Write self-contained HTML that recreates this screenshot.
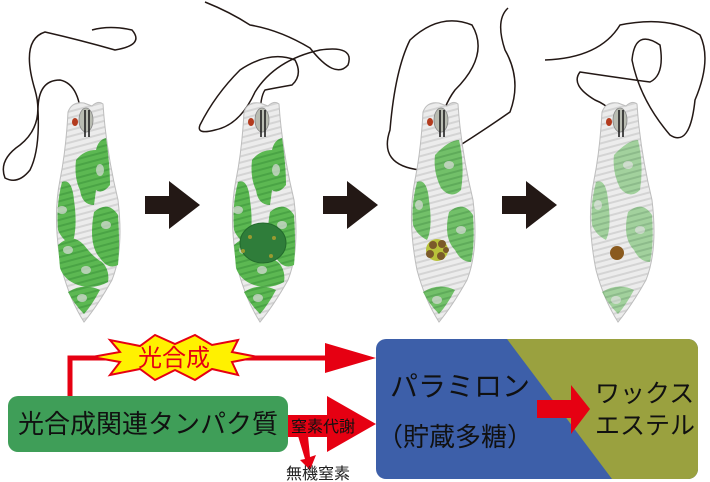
<!DOCTYPE html>
<html><head><meta charset="utf-8"><style>
html,body{margin:0;padding:0;background:#fff;width:710px;height:482px;overflow:hidden}
svg{display:block}
text{font-family:"Liberation Sans","Noto Sans CJK JP",sans-serif}
</style></head><body>
<svg width="710" height="482" viewBox="0 0 710 482" xmlns="http://www.w3.org/2000/svg">
<defs>
<pattern id="st" width="6" height="6" patternUnits="userSpaceOnUse" patternTransform="rotate(-15)">
<rect width="6" height="6" fill="#ececec"/><rect width="6" height="2" fill="#d4d4d4"/></pattern>
<pattern id="gs" width="6" height="6" patternUnits="userSpaceOnUse" patternTransform="rotate(-15)">
<rect width="6" height="6" fill="#5cb852"/><rect width="6" height="2" fill="#4aa445"/></pattern>
<g id="cell">
<path d="M-20,112 Q-16,101 -4,103 L4,106 Q10,100 15,104 Q18,150 30,200 Q36,250 24,280 Q10,305 -4,322 Q-18,300 -26,270 Q-36,220 -28,180 Q-22,150 -20,112Z" fill="url(#st)" stroke="#bdbdbd" stroke-width="1"/>
<ellipse cx="-2" cy="120" rx="7" ry="12" fill="#b9bcb2" stroke="#888" stroke-width="0.8"/>
<ellipse cx="-13" cy="122" rx="3" ry="4" fill="#b33b1e"/>
<path d="M-3,110 L-3,137 M1,110 L1,137" stroke="#222" stroke-width="1.6"/>
</g>
<g id="green1">
<path d="M-12,160 Q-4,150 8,150 Q10,140 18,138 Q22,165 22,185 Q14,195 8,190 L6,205 Q-6,205 -8,190 Q-14,178 -12,160Z" fill="url(#gs)"/>
<path d="M-26,182 Q-16,178 -14,200 Q-10,228 -16,245 Q-26,240 -30,230 Q-32,205 -26,182Z" fill="url(#gs)"/>
<path d="M6,212 Q20,200 30,215 Q32,245 30,265 Q20,270 12,258 Q0,245 6,212Z" fill="url(#gs)"/>
<path d="M-30,245 Q-16,232 -4,245 Q6,258 14,262 Q22,270 20,282 Q6,290 -10,285 Q-24,280 -28,268Z" fill="url(#gs)"/>
<path d="M-20,292 Q-4,282 12,290 Q4,305 -4,314 Q-14,304 -20,292Z" fill="url(#gs)"/>
<g fill="#dcdcdc" opacity=".7"><ellipse cx="12" cy="170" rx="4" ry="6"/><ellipse cx="-26" cy="210" rx="5" ry="4"/><ellipse cx="18" cy="225" rx="5" ry="4"/><ellipse cx="-20" cy="250" rx="5" ry="4"/><ellipse cx="-2" cy="270" rx="5" ry="4"/><ellipse cx="-6" cy="298" rx="5" ry="4"/></g>
</g>
<g id="green2">
<path d="M-8,155 Q6,140 16,140 Q22,165 18,190 Q8,200 -2,188 Q-10,172 -8,155Z" fill="url(#gs)" opacity=".85"/>
<path d="M-26,182 Q-16,178 -14,200 Q-10,228 -16,240 Q-26,235 -30,225 Q-32,205 -26,182Z" fill="url(#gs)" opacity=".85"/>
<path d="M6,212 Q20,200 30,215 Q32,245 28,262 Q18,262 12,250 Q0,238 6,212Z" fill="url(#gs)" opacity=".85"/>
<path d="M-20,292 Q-4,282 12,290 Q4,305 -4,314 Q-14,304 -20,292Z" fill="url(#gs)" opacity=".85"/>
<g fill="#dcdcdc" opacity=".7"><ellipse cx="6" cy="165" rx="5" ry="4"/><ellipse cx="-24" cy="205" rx="4" ry="5"/><ellipse cx="18" cy="230" rx="5" ry="4"/><ellipse cx="-6" cy="300" rx="5" ry="4"/></g>
</g>
<path id="barr" d="M0,196 L24,196 L24,181 L55,205 L24,229 L24,214 L0,214Z" fill="#231815"/>
</defs>
<g fill="none" stroke="#231815" stroke-width="1.5">
<path d="M81,137 Q84,85 60,80 Q38,80 38,110 Q40,150 30,170 Q18,185 5,178 Q-2,160 20,145 Q45,125 35,90 Q20,40 45,32 Q80,40 115,50 Q145,45 132,30 Q110,25 92,30"/>
<path d="M261,137 Q258,100 265,90 Q275,88 292,85 Q303,75 295,60 Q270,50 240,70 Q215,95 200,125 Q196,135 215,130 Q240,125 255,92 Q275,60 320,50 Q355,45 348,65 Q335,80 310,48 Q280,30 250,25 Q230,12 205,2"/>
<path d="M440,137 Q440,110 455,90 Q490,55 472,25 Q440,12 410,40 Q395,70 390,130 Q378,165 420,170 Q470,140 510,112 Q522,80 505,50 Q495,20 508,8"/>
<path d="M620,137 Q620,110 595,100 Q570,85 580,72 Q620,78 650,82 Q665,75 660,45 Q635,28 632,60 Q640,100 670,135 Q690,148 695,100 Q712,60 700,35 Q670,15 620,25 Q600,58 545,60"/>
</g>
<use href="#cell" x="88"/><use href="#green1" x="88"/>
<use href="#cell" x="264"/><use href="#green1" x="264"/>
<ellipse cx="263" cy="243" rx="23" ry="20" fill="#2f7d3a" stroke="#236a2c"/>
<g fill="#9a9a30"><circle cx="250" cy="237" r="2"/><circle cx="274" cy="238" r="2"/><circle cx="271" cy="256" r="2"/><circle cx="243" cy="251" r="2"/></g>
<use href="#cell" x="443"/><use href="#green2" x="443"/>
<circle cx="437" cy="250" r="11" fill="#b8c23a"/>
<g fill="#7b5a2a"><circle cx="433" cy="245" r="4"/><circle cx="442" cy="244" r="4"/><circle cx="430" cy="254" r="4"/><circle cx="441" cy="256" r="4"/><circle cx="446" cy="250" r="3"/></g>
<use href="#cell" x="622"/><use href="#green2" x="622" opacity=".6"/>
<circle cx="617" cy="253" r="7" fill="#8a5a1e"/>
<use href="#barr" x="145"/><use href="#barr" x="323"/><use href="#barr" x="502"/>

<path d="M70,398 L70,358 L330,358" fill="none" stroke="#e60012" stroke-width="5"/>
<path d="M325,343 L376,358 L325,373Z" fill="#e60012"/>
<path d="M92,357 L120,352 L110,340 L140,346 L155,335 L175,344 L195,335 L212,345 L238,340 L232,352 L258,357 L232,362 L238,375 L212,369 L195,380 L175,370 L155,380 L140,369 L110,375 L120,362Z" fill="#fff100" stroke="#e60012" stroke-width="2"/>
<text x="174" y="366" font-size="24" fill="#e60012" text-anchor="middle">光合成</text>
<rect x="8" y="396" width="280" height="56" rx="10" fill="#3f9e58"/>
<text x="148" y="433" font-size="26" fill="#111" text-anchor="middle">光合成関連タンパク質</text>
<path d="M288,415 L327,415 L327,396 L376,424 L327,452 L327,437 L288,437Z" fill="#e60012"/>
<text x="291" y="432" font-size="16" fill="#111">窒素代謝</text>
<path d="M298,436 L308,436 L310,457 L316,455 L310,470 L300,460 L305,459Z" fill="#e60012"/>
<text x="286" y="479" font-size="16" fill="#222">無機窒素</text>
<clipPath id="rb"><rect x="376" y="339" width="322" height="140" rx="10"/></clipPath>
<g clip-path="url(#rb)">
<rect x="376" y="339" width="322" height="140" fill="#3d5fa9"/>
<path d="M507,339 L698,339 L698,479 L612,479Z" fill="#9aa13f"/>
</g>
<text x="390" y="396" font-size="28" fill="#111">パラミロン</text>
<text x="377" y="446" font-size="26" fill="#111">（貯蔵多糖）</text>
<path d="M537,400 L571,400 L571,385 L590,409 L571,434 L571,418 L537,418Z" fill="#e60012"/>
<text x="595" y="402" font-size="25" fill="#111">ワックス</text>
<text x="595" y="434" font-size="25" fill="#111">エステル</text>
</svg>
</body></html>
